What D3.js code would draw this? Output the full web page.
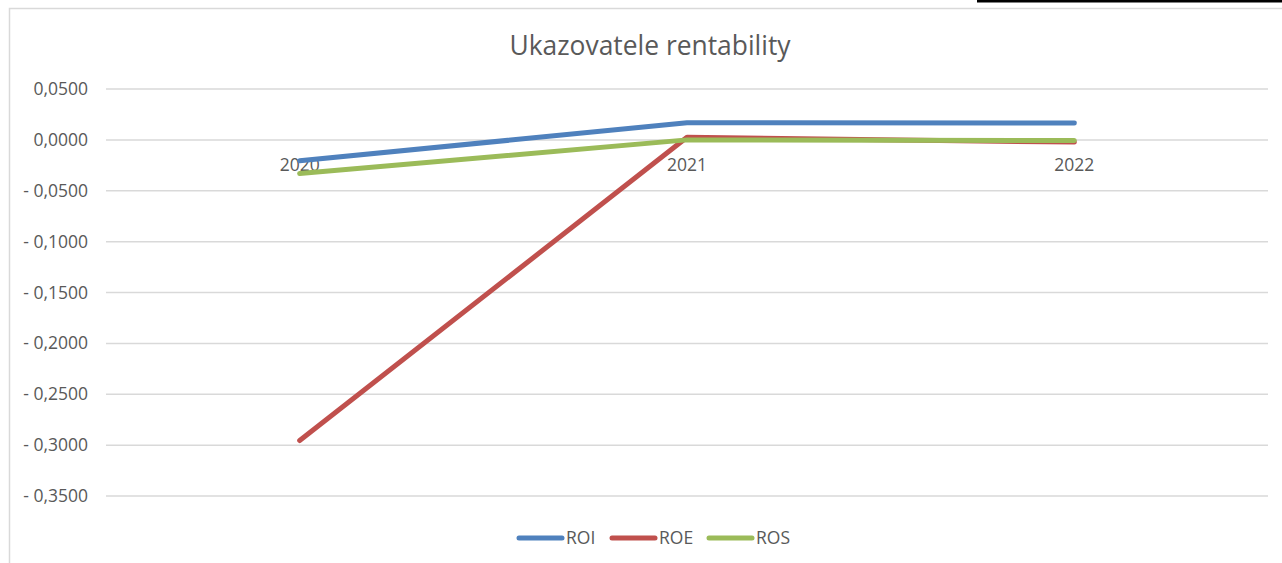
<!DOCTYPE html>
<html>
<head>
<meta charset="utf-8">
<script src="https://cdn.jsdelivr.net/npm/d3@7"></script>
<style>
  body { margin: 0; background: #fff; }
  svg { display: block; font-family: "Open Sans", sans-serif; }
</style>
</head>
<body>
<script>
// data
var years = ["2020", "2021", "2022"];
var roi = [-0.0205, 0.0168, 0.0165];
var roe = [-0.2955, 0.0025, -0.0022];
var ros = [-0.0330, 0.0000, -0.0006];
var yTicks = [0.05, 0, -0.05, -0.1, -0.15, -0.2, -0.25, -0.3, -0.35];
var seriesNames = ["ROI", "ROE", "ROS"];
var colors = ["#4f81bd", "#c0504d", "#9bbb59"];

var W = 1282, H = 563;
var margin = { left: 106, right: 14, top: 89, bottom: 67 };

var svg = d3.select("body").append("svg")
  .attr("width", W)
  .attr("height", H);

// chart area frame
svg.append("rect")
  .attr("x", 9.5).attr("y", 8.5)
  .attr("width", W + 20).attr("height", H + 20)
  .attr("fill", "#fff")
  .attr("stroke", "#d9d9d9")
  .attr("stroke-width", 1.5);
// the dark strip at the top right
svg.append("rect")
  .attr("x", 977).attr("y", 0)
  .attr("width", W - 977).attr("height", 2.5)
  .attr("fill", "#000");

var x = d3.scaleBand().domain(years).range([margin.left, W - margin.right]);
var y = d3.scaleLinear().domain([-0.35, 0.05]).range([H - margin.bottom, margin.top]);

// title
svg.append("text")
  .attr("x", 650).attr("y", 55)
  .attr("text-anchor", "middle")
  .attr("fill", "#595959")
  .style("font-size", "26.4px")
  .text("Ukazovatele rentability");

// gridlines
svg.append("g")
  .selectAll("line")
  .data(yTicks)
  .enter()
  .append("line")
  .attr("x1", margin.left).attr("x2", W - margin.right)
  .attr("y1", d => y(d)).attr("y2", d => y(d))
  .attr("stroke", "#d9d9d9")
  .attr("stroke-width", 1.5);

// y axis labels
var fmt = function(d) {
  var s = Math.abs(d).toFixed(4).replace(".", ",");
  return d < -1e-9 ? "- " + s : s;
};
var yAxis = d3.axisLeft(y).tickValues(yTicks).tickFormat(fmt).tickSize(0).tickPadding(0);
var gy = svg.append("g")
  .attr("transform", "translate(88,0)")
  .call(yAxis);
gy.select(".domain").remove();
gy.selectAll("text")
  .attr("fill", "#595959")
  .style("font-size", "17.5px")
  .style("font-family", "Open Sans, sans-serif");

// category labels at the zero line
var xAxis = d3.axisBottom(x).tickSize(0).tickPadding(19);
var gx = svg.append("g")
  .attr("transform", "translate(0," + y(0) + ")")
  .call(xAxis);
gx.select(".domain").remove();
gx.selectAll("text")
  .attr("fill", "#595959")
  .style("font-size", "17.5px")
  .style("font-family", "Open Sans, sans-serif");

// lines
var line = d3.line()
  .x((d, i) => x(years[i]) + x.bandwidth() / 2)
  .y(d => y(d));
[roi, roe, ros].forEach(function(vals, k) {
  svg.append("path")
    .datum(vals)
    .attr("d", line)
    .attr("fill", "none")
    .attr("stroke", colors[k])
    .attr("stroke-width", 5)
    .attr("stroke-linecap", "round")
    .attr("stroke-linejoin", "round");
});

// legend
var legendX = [519, 612, 709];
var lg = svg.append("g");
seriesNames.forEach(function(name, k) {
  lg.append("line")
    .attr("x1", legendX[k]).attr("x2", legendX[k] + 43)
    .attr("y1", 538).attr("y2", 538)
    .attr("stroke", colors[k])
    .attr("stroke-width", 5)
    .attr("stroke-linecap", "round");
  lg.append("text")
    .attr("x", legendX[k] + 47).attr("y", 544)
    .attr("fill", "#595959")
    .style("font-size", "17.5px")
    .text(name);
});
</script>
</body>
</html>
